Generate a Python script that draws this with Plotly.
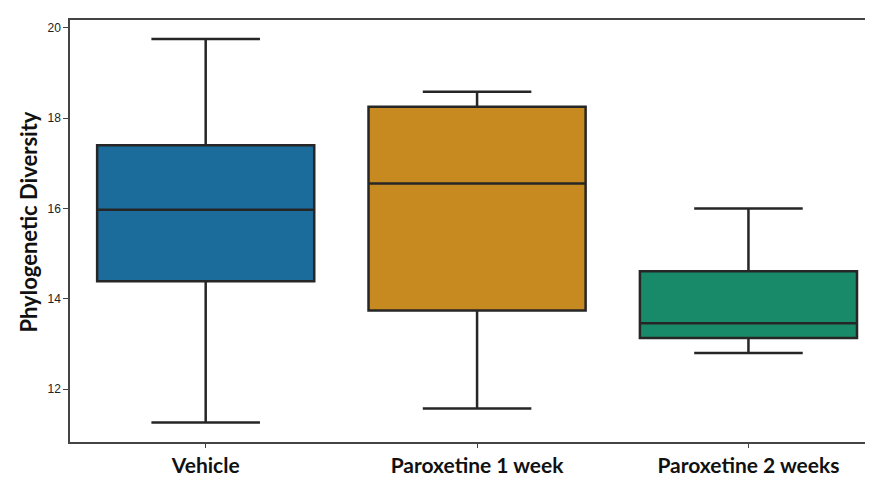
import plotly.graph_objects as go

categories = ["Vehicle", "Paroxetine 1 week", "Paroxetine 2 weeks"]
lower_whisker = [11.26, 11.57, 12.80]
q1 = [14.39, 13.74, 13.13]
median = [15.97, 16.55, 13.46]
q3 = [17.40, 18.25, 14.61]
upper_whisker = [19.75, 18.58, 16.00]
colors = ["#1b6c9b", "#c78a20", "#188a6a"]
y_ticks = [12, 14, 16, 18, 20]

fig = go.Figure()
for i, cat in enumerate(categories):
    fig.add_trace(go.Box(
        x=[i], q1=[q1[i]], median=[median[i]], q3=[q3[i]],
        lowerfence=[lower_whisker[i]], upperfence=[upper_whisker[i]],
        fillcolor=colors[i], line=dict(color="#262626", width=2.5),
        width=0.8, whiskerwidth=0.5, boxpoints=False, name=cat,
        showlegend=False, hoverinfo="skip",
    ))

fig.update_layout(
    width=873, height=481,
    margin=dict(l=62, r=3, t=12, b=47),
    plot_bgcolor="white", paper_bgcolor="white",
    xaxis=dict(
        range=[-0.5, 2.47], tickvals=[0, 1, 2],
        ticktext=["<b>%s</b>" % c for c in categories],
        showline=True, linecolor="#444", linewidth=1.5, mirror=True,
        ticks="outside", ticklen=4, tickcolor="#444", showgrid=False, zeroline=False,
        tickfont=dict(family="Lato", size=21, color="#111"),
        ticklabelstandoff=0,
    ),
    yaxis=dict(
        range=[10.83, 20.17], tickvals=y_ticks,
        showline=True, linecolor="#444", linewidth=1.5, mirror=True,
        ticks="outside", ticklen=5, tickcolor="#444", showgrid=False, zeroline=False,
        tickfont=dict(family="Liberation Sans", size=12, color="#222"),
    ),
    annotations=[dict(
        text="<b>Phylogenetic Diversity</b>", textangle=-90,
        xref="paper", yref="paper", x=0, y=0.52, xshift=-41,
        xanchor="center", yanchor="middle", showarrow=False,
        font=dict(family="Lato", size=22, color="#111"),
    )],
)
fig.write_html("out.html")
